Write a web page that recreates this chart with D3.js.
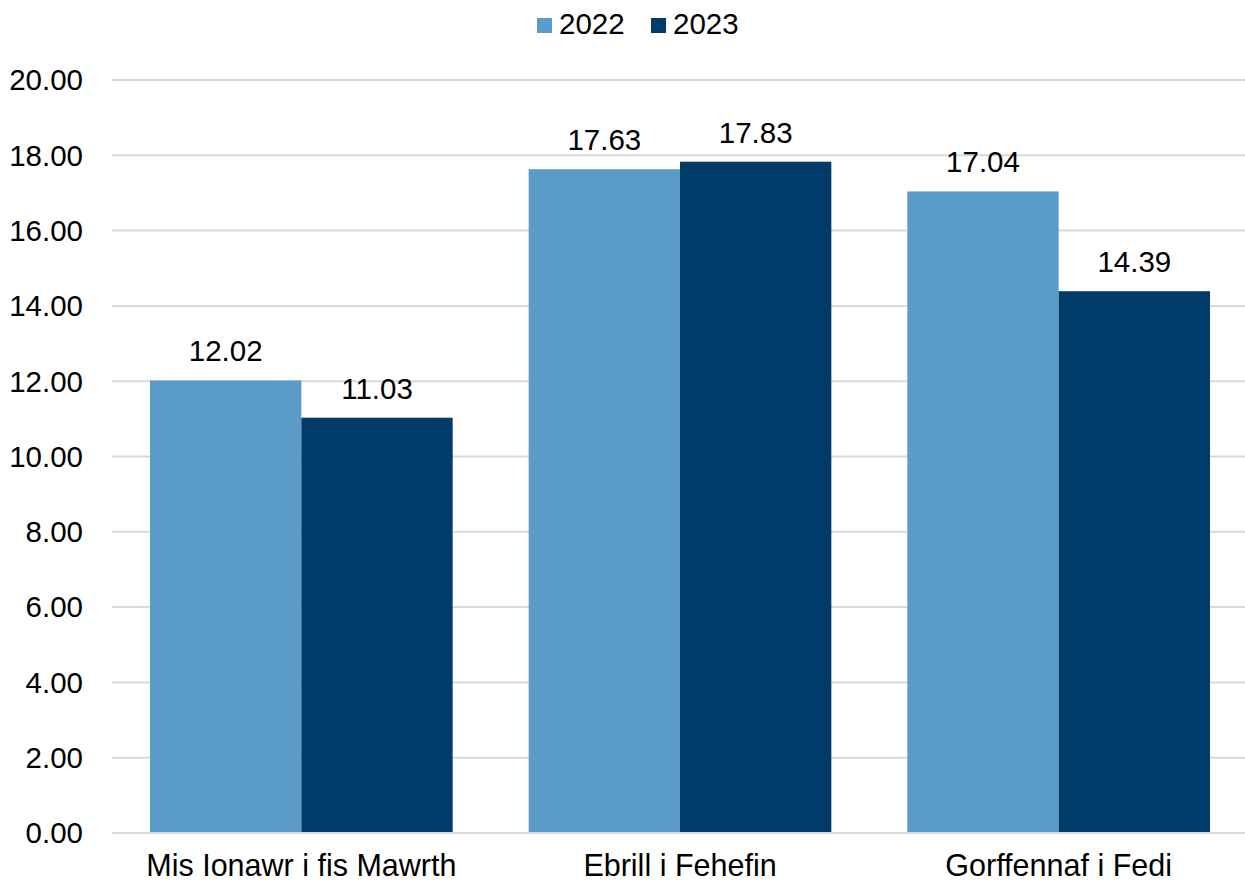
<!DOCTYPE html>
<html><head><meta charset="utf-8">
<script src="https://cdn.jsdelivr.net/npm/d3@7"></script>
<style>body{margin:0;background:#fff;} svg{display:block;font-family:"Liberation Sans",Arial,sans-serif;}</style>
</head><body><svg id="c" width="1245" height="884"></svg>
<script>
const categories = ["Mis Ionawr i fis Mawrth", "Ebrill i Fehefin", "Gorffennaf i Fedi"];
const seriesNames = ["2022", "2023"];
const values2022 = [12.02, 17.63, 17.04];
const values2023 = [11.03, 17.83, 14.39];
const yTicks = [0, 2, 4, 6, 8, 10, 12, 14, 16, 18, 20];
const colors = ["#5B9BC7", "#003B69"];

(function () {
const svg = d3.select("#c");
const fs = 29.5;
const pLeft = 112, pRight = 1248, pTop = 80, pBottom = 833;
const y = d3.scaleLinear().domain([0, 20]).range([pBottom, pTop]);
const x0 = d3.scaleBand().domain(categories).range([pLeft, pRight]).padding(0);
const x1 = d3.scaleBand().domain(seriesNames).range([38, x0.bandwidth() - 38]).padding(0);
const data = categories.map((c, i) => ({cat: c, vals: [values2022[i], values2023[i]]}));

svg.append("g").selectAll("line").data(yTicks).join("line")
  .attr("x1", pLeft).attr("x2", 1245)
  .attr("y1", d => y(d)).attr("y2", d => y(d))
  .attr("stroke", "#d9d9d9").attr("stroke-width", 2);

svg.append("g").selectAll("text").data(yTicks).join("text")
  .attr("x", 83).attr("y", d => y(d)).attr("dy", "0.35em")
  .attr("text-anchor", "end").attr("font-size", fs).attr("fill", "#000")
  .text(d => d.toFixed(2));

const g = svg.append("g").selectAll("g").data(data).join("g")
  .attr("transform", d => `translate(${x0(d.cat)},0)`);
g.selectAll("rect").data(d => d.vals.map((v, j) => ({s: seriesNames[j], v, j}))).join("rect")
  .attr("x", d => x1(d.s)).attr("width", x1.bandwidth())
  .attr("y", d => y(d.v)).attr("height", d => y(0) - y(d.v))
  .attr("fill", d => colors[d.j]);
g.selectAll("text").data(d => d.vals.map((v, j) => ({s: seriesNames[j], v, j}))).join("text")
  .attr("x", d => x1(d.s) + x1.bandwidth() / 2).attr("y", d => y(d.v) - 19)
  .attr("text-anchor", "middle").attr("font-size", fs).attr("fill", "#000")
  .text(d => d.v.toFixed(2));

svg.append("line").attr("x1", pLeft).attr("x2", 1245).attr("y1", y(0)).attr("y2", y(0))
  .attr("stroke", "#d9d9d9").attr("stroke-width", 2);

svg.append("g").selectAll("text").data(categories).join("text")
  .attr("x", d => x0(d) + x0.bandwidth() / 2).attr("y", 876)
  .attr("text-anchor", "middle").attr("font-size", 30.5).attr("fill", "#000")
  .text(d => d);

const legendX = [537, 651];
const lg = svg.append("g").selectAll("g").data(seriesNames).join("g")
  .attr("transform", (d, i) => `translate(${legendX[i]},0)`);
lg.append("rect").attr("x", 0).attr("y", 18).attr("width", 15).attr("height", 15)
  .attr("fill", (d, i) => colors[i]);
lg.append("text").attr("x", 22).attr("y", 34)
  .attr("font-size", fs).attr("fill", "#000").text(d => d);
})();
</script></body></html>
